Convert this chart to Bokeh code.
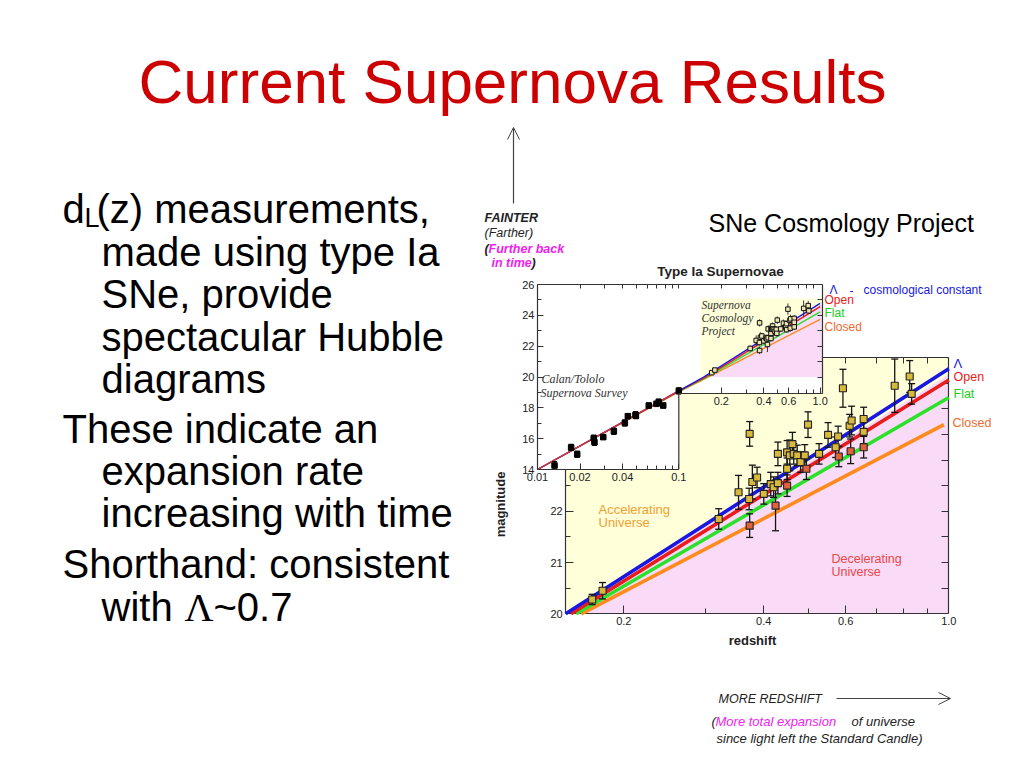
import math
from bokeh.plotting import figure
from bokeh.models import (Range1d, LogScale, LinearAxis, LogAxis, FixedTicker,
                          CustomJSTickFormatter, Arrow, OpenHead)
from bokeh.core.properties import value
from bokeh.embed import file_html
from bokeh.resources import INLINE

# ------------------------------------------------------------------ data
# Supernova Cosmology Project (high redshift): redshift, magnitude, error
SCP_Z = [0.171, 0.180, 0.320, 0.353, 0.373, 0.372, 0.373, 0.378, 0.387, 0.400,
         0.414, 0.420, 0.424, 0.429, 0.429, 0.449, 0.449, 0.449, 0.455, 0.461,
         0.464, 0.472, 0.480, 0.490, 0.494, 0.498, 0.526, 0.550, 0.571, 0.578,
         0.580, 0.592, 0.612, 0.618, 0.615, 0.656, 0.656, 0.656, 0.765, 0.824,
         0.832]
SCP_M = [20.28, 20.45, 21.85, 22.37, 23.51, 22.24, 21.72, 22.57, 22.66, 22.34,
         22.53, 22.47, 22.11, 22.55, 23.12, 22.50, 22.83, 23.15, 23.09, 23.31,
         23.12, 23.09, 22.96, 23.09, 22.83, 23.69, 23.12, 23.49, 23.25, 23.46,
         23.07, 24.40, 23.67, 23.77, 23.17, 23.80, 23.55, 23.25, 24.45, 24.63,
         24.29]
SCP_ERR = [0.10, 0.16, 0.20, 0.33, 0.24, 0.21, 0.23, 0.33, 0.20, 0.20,
           0.23, 0.20, 0.49, 0.21, 0.23, 0.21, 0.21, 0.23, 0.30, 0.23,
           0.20, 0.20, 0.20, 0.21, 0.21, 0.25, 0.20, 0.24, 0.20, 0.20,
           0.20, 0.37, 0.22, 0.28, 0.24, 0.23, 0.23, 0.21, 0.52, 0.31,
           0.20]

# Calan/Tololo supernova survey (low redshift)
CT_Z = [0.0132, 0.0173, 0.0191, 0.0250, 0.0253, 0.0292, 0.0347, 0.0415, 0.0436,
        0.0494, 0.0497, 0.0613, 0.0695, 0.0720, 0.0776, 0.1000]
CT_M = [14.26, 15.43, 14.99, 16.03, 15.77, 16.10, 16.48, 17.02, 17.46,
        17.55, 17.47, 18.15, 18.26, 18.37, 18.15, 19.10]
CT_ERR = [0.25, 0.20, 0.20, 0.20, 0.20, 0.15, 0.20, 0.20, 0.15,
          0.20, 0.15, 0.15, 0.15, 0.20, 0.15, 0.20]

# model magnitude-redshift relations, main panel
LAMBDA_Z = [0.150, 1.000]
LAMBDA_M = [20.00, 24.78]
OPEN_Z = [0.154, 1.000]
OPEN_M = [20.00, 24.56]
FLAT_Z = [0.158, 1.000]
FLAT_M = [20.00, 24.22]
CLOSED_Z = [0.162, 0.976]
CLOSED_M = [20.00, 23.69]

# the same relations over the inset's redshift range
INSET_MODEL_Z = [0.01, 0.10, 0.15, 1.00]
LAMBDA_INSET_M = [14.00, 19.10, 20.00, 24.78]
OPEN_INSET_M = [14.00, 19.08, 19.93, 24.56]
FLAT_INSET_M = [14.00, 19.06, 19.88, 24.22]
CLOSED_INSET_M = [14.00, 19.04, 19.85, 23.74]

# border between accelerating (above) and decelerating (below) universes
COAST_Z = [0.150, 1.000]
COAST_M = [20.00, 24.67]

# ticks
MAIN_Z_TICKS = [0.2, 0.4, 0.6, 1.0]
MAIN_Z_MINOR = [0.3, 0.5, 0.7, 0.8, 0.9]
MAIN_M_TICKS = [20, 21, 22]
MAIN_M_MINOR = [20.5, 21.5, 22.5, 23, 23.5, 24, 24.5]
MAIN_M_RIGHT = [20.5, 21, 21.5, 22, 22.5, 23, 23.5, 24, 24.5]
INSET_M_TICKS = [14, 16, 18, 20, 22, 24, 26]
INSET_M_MINOR = [15, 17, 19, 21, 23, 25]
INSET_Z_TICKS_LOW = [0.01, 0.02, 0.04, 0.1]
INSET_Z_MINOR_LOW = [0.03, 0.05, 0.06, 0.07, 0.08, 0.09]
INSET_Z_TICKS_HIGH = [0.2, 0.4, 0.6, 1.0]
INSET_Z_MINOR_HIGH = [0.3, 0.5, 0.7, 0.8, 0.9]
INSET_Z_TOP = [0.02, 0.03, 0.04, 0.05, 0.06, 0.07, 0.08, 0.09, 0.1,
               0.2, 0.3, 0.4, 0.5, 0.6, 0.7, 0.8, 0.9]
INSET_M_RIGHT = [20, 21, 22, 23, 24, 25]

# ------------------------------------------------------------------ layout / style
X0, X1, Y0, Y1 = 0, 1008, 0, 752          # page pixels covered by the canvas
MAIN_Z_MIN, MAIN_Z_MAX, MAIN_M_MIN, MAIN_M_MAX = 0.15, 1.0, 20, 25
INSET_Z_MIN, INSET_Z_STEP, INSET_Z_MAX = 0.01, 0.1, 1.04
INSET_M_MIN, INSET_M_STEP, INSET_M_MAX = 14, 18.91, 26
INSET_BOX = (0.1426, 1.04, 20, 25.1)
RED_POINTS = {6, 12, 15, 24, 30, 34, 37}

YELLOW = "#FFFFDA"
PINK = "#F9DAF7"
BLUE, RED, GREEN, ORANGE = "#1818E0", "#E81C1C", "#2CE02C", "#FF8A1E"
AXC = "#333333"
SANS = "Liberation Sans"
SERIF = "Liberation Serif"
MAGENTA = "#EE22EE"


def log_range(za, pa, zb, pb):
    k = (pb - pa) / (math.log10(zb) - math.log10(za))
    return Range1d(10 ** (math.log10(za) + (X0 - pa) / k),
                   10 ** (math.log10(za) + (X1 - pa) / k))


def lin_range(ma, pa, mb, pb):
    k = (mb - ma) / (pb - pa)
    return Range1d(ma + (Y1 - pa) * k, ma + (Y0 - pa) * k)


p = figure(width=X1 - X0, height=Y1 - Y0, x_range=Range1d(X0, X1), y_range=Range1d(Y1, Y0),
           x_axis_type=None, y_axis_type=None, toolbar_location=None,
           output_backend="svg", min_border=0)
p.outline_line_color = None
p.background_fill_color = "white"
p.border_fill_color = "white"

p.extra_x_ranges = {"mx": log_range(0.2, 623.3, 1.0, 948.3),
                    "ix": log_range(0.01, 537.0, 0.1, 678.3)}
p.extra_x_scales = {"mx": LogScale(), "ix": LogScale()}
p.extra_y_ranges = {"my": lin_range(20, 613.3, 25, 357.0),
                    "iy": lin_range(14, 469.0, 26, 284.0)}

M = dict(x_range_name="mx", y_range_name="my")
I = dict(x_range_name="ix", y_range_name="iy")
FMT = "return tick < 0.095 ? tick.toFixed(2) : tick.toFixed(1);"


def axis(log, side, rng, loc, bounds, ticks, minor, tlen=6, mlen=3, level="guide", size="11px"):
    cls = LogAxis if log else LinearAxis
    ax = cls(fixed_location=loc, bounds=bounds, level=level,
             ticker=FixedTicker(ticks=ticks, minor_ticks=minor), **rng)
    ax.major_tick_in, ax.major_tick_out = tlen, 0
    ax.minor_tick_in, ax.minor_tick_out = mlen, 0
    ax.axis_line_color = AXC
    ax.major_tick_line_color = AXC
    ax.minor_tick_line_color = AXC
    ax.axis_line_width = 1.2
    ax.major_label_text_font = SANS
    ax.major_label_text_font_size = size
    ax.major_label_text_color = "#222222"
    ax.major_label_standoff = 3
    if log:
        ax.formatter = CustomJSTickFormatter(code=FMT)
    p.add_layout(ax, side)


def txt(x, y, s, size, color="black", style="normal", font=SANS, align="left",
        baseline="alphabetic", angle=0.0):
    # y is the text baseline on the page; the glyph is anchored at its cap middle
    if baseline == "alphabetic":
        y = y - 0.36 * size
    p.text(x=[x], y=[y], text=[s], text_font=value(font), text_font_size=f"{size}px",
           text_color=color, text_font_style=style, text_align=align,
           text_baseline=baseline, angle=angle)


# ------------------------------------------------------------------ main panel
p.quad(left=[MAIN_Z_MIN], right=[MAIN_Z_MAX], bottom=[MAIN_M_MIN], top=[MAIN_M_MAX],
       fill_color=YELLOW, line_color=None, level="image", **M)
p.patch(x=COAST_Z + [MAIN_Z_MAX], y=COAST_M + [MAIN_M_MIN], fill_color=PINK,
        line_color=None, level="image", **M)

axis(True, "below", M, MAIN_M_MIN, (MAIN_Z_MIN, MAIN_Z_MAX), MAIN_Z_TICKS, MAIN_Z_MINOR,
     tlen=8, mlen=5, level="underlay")
axis(True, "above", M, MAIN_M_MAX, (MAIN_Z_MIN, MAIN_Z_MAX), [], MAIN_Z_TICKS + MAIN_Z_MINOR,
     mlen=6, level="underlay")
axis(False, "left", M, MAIN_Z_MIN, (MAIN_M_MIN, MAIN_M_MAX), MAIN_M_TICKS, MAIN_M_MINOR,
     tlen=8, mlen=5, level="underlay")
axis(False, "right", M, MAIN_Z_MAX, (MAIN_M_MIN, MAIN_M_MAX), [], MAIN_M_RIGHT,
     mlen=7, level="underlay")

for zs, ms, col in ((CLOSED_Z, CLOSED_M, ORANGE), (FLAT_Z, FLAT_M, GREEN),
                    (OPEN_Z, OPEN_M, RED), (LAMBDA_Z, LAMBDA_M, BLUE)):
    p.line(zs, ms, line_color=col, line_width=3.6, **M)

lo = [m - e for m, e in zip(SCP_M, SCP_ERR)]
hi = [m + e for m, e in zip(SCP_M, SCP_ERR)]
fills = ["#E0623C" if i in RED_POINTS else "#D8B93C" for i in range(len(SCP_Z))]
p.segment(x0=SCP_Z, y0=lo, x1=SCP_Z, y1=hi, line_color="#151515", line_width=1.3, **M)
p.scatter(x=SCP_Z + SCP_Z, y=lo + hi, marker="dash", size=7, line_color="#151515",
          line_width=1.3, **M)
p.scatter(x=SCP_Z, y=SCP_M, marker="square", size=7, fill_color=fills,
          line_color="#222222", line_width=1.1, **M)

# ------------------------------------------------------------------ inset
p.patch(x=[INSET_Z_MIN, INSET_Z_MAX, INSET_Z_MAX, INSET_Z_STEP, INSET_Z_STEP, INSET_Z_MIN],
        y=[INSET_M_MAX, INSET_M_MAX, INSET_M_STEP, INSET_M_STEP, INSET_M_MIN, INSET_M_MIN],
        fill_color="white", line_color=None, **I)
p.quad(left=[INSET_BOX[0]], right=[INSET_BOX[1]], bottom=[INSET_BOX[2]], top=[INSET_BOX[3]],
       fill_color=YELLOW, line_color=None, **I)
p.patch(x=COAST_Z + [INSET_BOX[1], INSET_BOX[1]],
        y=COAST_M + [COAST_M[-1], INSET_BOX[2]], fill_color=PINK, line_color=None, **I)

for ms, col in ((CLOSED_INSET_M, ORANGE), (FLAT_INSET_M, GREEN),
                (OPEN_INSET_M, RED), (LAMBDA_INSET_M, BLUE)):
    p.line(INSET_MODEL_Z, ms, line_color=col, line_width=1.4, **I)
p.line(INSET_MODEL_Z[:2], LAMBDA_INSET_M[:2], line_color="#E03838", line_width=1.4, **I)

clo = [m - e for m, e in zip(CT_M, CT_ERR)]
chi = [m + e for m, e in zip(CT_M, CT_ERR)]
p.segment(x0=CT_Z, y0=clo, x1=CT_Z, y1=chi, line_color="black", line_width=1.2, **I)
p.scatter(x=CT_Z + CT_Z, y=clo + chi, marker="dash", size=5, line_color="black",
          line_width=1.2, **I)
p.scatter(x=CT_Z, y=CT_M, marker="square", size=5.5, fill_color="black",
          line_color="black", **I)

p.segment(x0=SCP_Z, y0=lo, x1=SCP_Z, y1=hi, line_color="#222222", line_width=0.9, **I)
p.scatter(x=SCP_Z, y=SCP_M, marker="square", size=4.5, fill_color="#EDE6B0",
          line_color="#111111", line_width=1.0, **I)

p.segment(x0=[INSET_Z_STEP], y0=[INSET_M_MIN], x1=[INSET_Z_STEP], y1=[INSET_M_STEP],
          line_color=AXC, line_width=1.2, **I)
axis(False, "left", I, INSET_Z_MIN, (INSET_M_MIN, INSET_M_MAX), INSET_M_TICKS, INSET_M_MINOR,
     tlen=6, mlen=4)
axis(True, "below", I, INSET_M_MIN, (INSET_Z_MIN, INSET_Z_STEP), INSET_Z_TICKS_LOW,
     INSET_Z_MINOR_LOW, tlen=6, mlen=4)
axis(True, "below", I, INSET_M_STEP, (INSET_Z_STEP, INSET_Z_MAX), INSET_Z_TICKS_HIGH,
     INSET_Z_MINOR_HIGH, tlen=6, mlen=4)
axis(True, "above", I, INSET_M_MAX, (INSET_Z_MIN, INSET_Z_MAX), [], INSET_Z_TOP, mlen=4)
axis(False, "right", I, INSET_Z_MAX, (INSET_M_STEP, INSET_M_MAX), [], INSET_M_RIGHT, mlen=5)

# ------------------------------------------------------------------ chart texts
txt(720, 276, "Type Ia Supernovae", 13.5, color="#222222", style="bold", align="center")
txt(541, 383, "Calan/Tololo", 12, color="#333333", style="italic", font=SERIF)
txt(540, 397, "Supernova Survey", 12, color="#333333", style="italic", font=SERIF)
txt(701, 309, "Supernova", 11.5, color="#333333", style="italic", font=SERIF)
txt(701, 322, "Cosmology", 11.5, color="#333333", style="italic", font=SERIF)
txt(701, 335, "Project", 11.5, color="#333333", style="italic", font=SERIF)

txt(829, 294, "Λ", 12, color=BLUE)
txt(849, 294, "-", 12, color=BLUE)
txt(863, 294, "cosmological constant", 12, color=BLUE)
txt(824, 304, "Open", 12, color=RED)
txt(824, 317, "Flat", 12, color="#22CC22")
txt(824, 331, "Closed", 12, color="#F06A30")

txt(953, 368, "Λ", 13, color=BLUE)
txt(953, 381, "Open", 12.5, color=RED)
txt(953, 398, "Flat", 12.5, color="#22CC22")
txt(952, 427, "Closed", 12.5, color="#F06A30")

txt(598, 514, "Accelerating", 13, color="#F0A030")
txt(598, 527, "Universe", 13, color="#F0A030")
txt(831, 563, "Decelerating", 12.5, color="#E84848")
txt(831, 576, "Universe", 12.5, color="#E84848")

txt(752, 645, "redshift", 13, color="#222222", style="bold", align="center")
txt(500, 504, "magnitude", 13, color="#222222", style="bold", align="center",
    baseline="middle", angle=math.pi / 2)

txt(484, 222, "FAINTER", 12.5, color="#222222", style="bold italic")
txt(484, 237, "(Farther)", 12.5, color="#222222", style="italic")
txt(484, 253, "(", 12.5, color="#222222", style="bold italic")
txt(488, 253, "Further back", 12.5, color=MAGENTA, style="bold italic")
txt(491, 267, "in time", 12.5, color=MAGENTA, style="bold italic")
txt(531, 267, ")", 12.5, color="#222222", style="bold italic")
p.add_layout(Arrow(x_start=513, y_start=203, x_end=513, y_end=127, line_color="#444444",
                   line_width=1.2, end=OpenHead(size=12, line_color="#444444", line_width=1)))

txt(718, 703, "MORE REDSHIFT", 12.5, color="#222222", style="italic")
p.add_layout(Arrow(x_start=836, y_start=698, x_end=950, y_end=698, line_color="#444444",
                   line_width=1.2, end=OpenHead(size=12, line_color="#444444", line_width=1)))
txt(711, 726, "(", 13, color="#222222", style="italic")
txt(715, 726, "More total expansion", 13, color=MAGENTA, style="italic")
txt(851, 726, "of universe", 13, color="#222222", style="italic")
txt(716, 743, "since light left the Standard Candle)", 13, color="#222222", style="italic")

# ------------------------------------------------------------------ slide texts
txt(512, 103, "Current Supernova Results", 62, color="#CC0000", align="center")
txt(708, 231, "SNe Cosmology Project", 25)

txt(62, 223, "d", 40)
txt(84, 227, "L", 27)
txt(96, 223, "(z) measurements,", 40)
txt(101, 266, "made using type Ia", 40)
txt(101, 308, "SNe, provide", 40)
txt(101, 351, "spectacular Hubble", 40)
txt(101, 393, "diagrams", 40)
txt(62, 443, "These indicate an", 40)
txt(101, 485, "expansion rate", 40)
txt(101, 527, "increasing with time", 40)
txt(62, 578, "Shorthand: consistent", 40)
txt(101, 621, "with ", 40)
txt(184, 621, "Λ", 40, font=SERIF)
txt(213, 621, "~0.7", 40)

open("out.html", "w").write(file_html(p, INLINE, title="Current Supernova Results"))
